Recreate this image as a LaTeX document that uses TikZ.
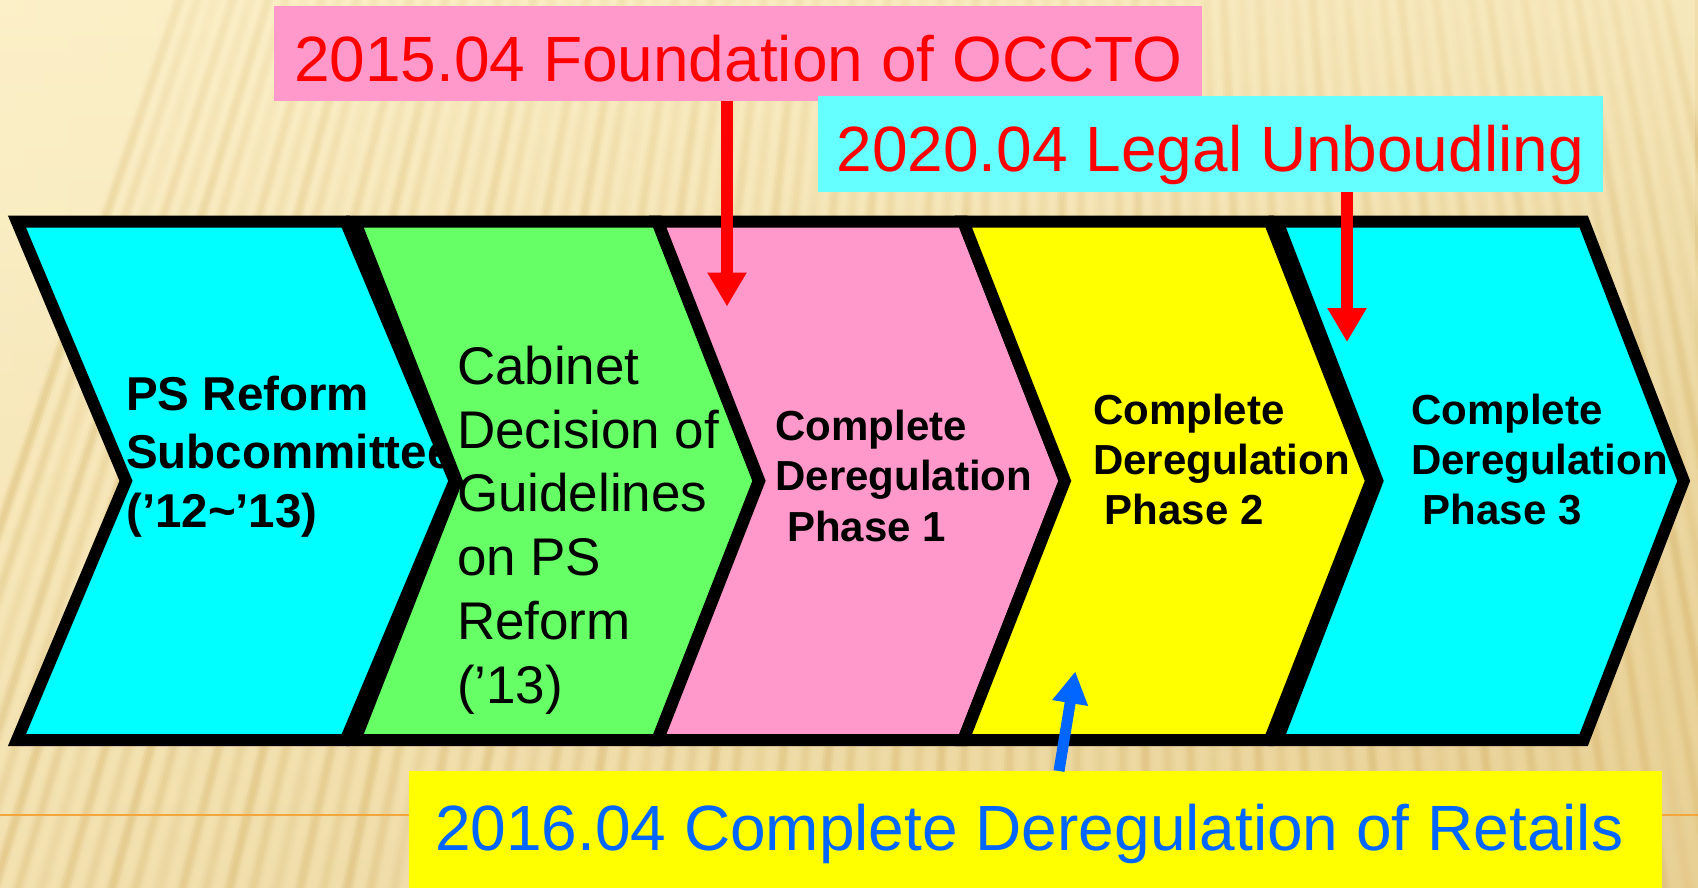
\documentclass[tikz,border=0pt]{standalone}
\usepackage{fontspec}
\setmainfont{Liberation Sans}
\usetikzlibrary{arrows.meta,fadings}

\definecolor{bgtop}{HTML}{FCF0C8}
\definecolor{bgbottom}{HTML}{ECD59C}
\definecolor{bgright}{HTML}{E4CA8C}
\definecolor{stripecol}{HTML}{D6B468}
\definecolor{slideline}{HTML}{F2A63C}
\definecolor{chcyan}{HTML}{00FFFF}
\definecolor{chgreen}{HTML}{66FF66}
\definecolor{chpink}{HTML}{FF99CC}
\definecolor{chyellow}{HTML}{FFFF00}
\definecolor{boxcyan}{HTML}{66FFFF}
\definecolor{labelred}{HTML}{FF0000}
\definecolor{labelblue}{HTML}{0066FF}

% one chevron: left x, right x, point offset, fill colour
\newcommand{\chevronpath}[4]{%
  \filldraw[chevline, fill=#4]
    (#1,221.7) -- (#2,221.7) -- (#2+#3,480.85) -- (#2,740)
    -- (#1,740) -- (#1+#3,480.85) -- cycle;}

\begin{document}
\begin{tikzpicture}[x=1pt,y=-1pt,
  chevline/.style={draw=black, line width=12pt, line join=miter, miter limit=20},
  ctext/.style={anchor=north west, inner sep=0pt, align=left, text=black},
  labelbox/.style={anchor=north west, inner xsep=0pt, inner ysep=0pt,
    minimum height=0pt, font=\fontsize{64}{76.8}\selectfont},
  redarrow/.style={draw=labelred, line width=12pt,
    -{Triangle[length=34pt,width=37pt]}},
  bluearrow/.style={draw=labelblue, line width=11pt,
    -{Triangle[length=32pt,width=34pt]}},
  stripe/.style={draw=stripecol}]

\useasboundingbox (0,0) rectangle (1698,887);

% ---- striped beige background (soft rays) ----
\begin{scope}
  \clip (0,0) rectangle (1698,887);
  \shade[top color=bgtop, bottom color=bgbottom] (0,0) rectangle (1698,887);
  \shade[left color=bgtop, right color=bgright, opacity=0.45] (0,0) rectangle (1698,887);
  \foreach \k in {-52,...,32}{
    \pgfmathsetmacro\op{0.06+0.04*mod(abs(\k*7),5)}
    \draw[stripe, line width=15pt, opacity=0.05] (1100,-2700) -- (1100+\k*23.6,900);
    \draw[stripe, line width=10pt, opacity=\op] (1100,-2700) -- (1100+\k*23.6,900);
    \draw[stripe, line width=5pt, opacity=\op] (1100,-2700) -- (1100+\k*23.6,900);
  }
  \fill[bgtop, path fading=south, opacity=0.55] (0,0) rectangle (1698,420);
  \draw[slideline, line width=2pt] (0,814.5) -- (1698,814.5);
\end{scope}

% ---- chevron band ----
\chevronpath{17}{345.7}{109}{chcyan}
\node[ctext, font=\bfseries\fontsize{47.5}{58.5}\selectfont] (c1) at (126,362.3)
  {\rule{0pt}{47.5pt}PS Reform\\Subcommittee\\(’12\textasciitilde’13)};

\chevronpath{355}{657.3}{101.5}{chgreen}
\node[ctext, font=\fontsize{53}{63.7}\selectfont] (c2) at (456.8,331.3)
  {\rule{0pt}{53pt}Cabinet\\Decision of\\Guidelines\\on PS\\Reform\\(’13)};

\chevronpath{657.7}{963.3}{101.5}{chpink}
\node[ctext, font=\bfseries\fontsize{42}{50.4}\selectfont] (c3) at (775.2,398.3)
  {\rule{0pt}{42pt}Complete\\Deregulation\\\hspace*{0.28em}Phase 1};

\chevronpath{963.3}{1269.7}{101.5}{chyellow}
\node[ctext, font=\bfseries\fontsize{42}{50.4}\selectfont] (c4) at (1092.9,381.9)
  {\rule{0pt}{42pt}Complete\\Deregulation\\\hspace*{0.28em}Phase 2};

\chevronpath{1277.3}{1583.7}{100}{chcyan}
\node[ctext, font=\bfseries\fontsize{42}{50.4}\selectfont] (c5) at (1410.9,381.9)
  {\rule{0pt}{42pt}Complete\\Deregulation\\\hspace*{0.28em}Phase 3};

% ---- event labels ----
\node[labelbox, fill=chpink, text=labelred, minimum width=928pt,
  text height=75.6pt, text depth=19.7pt] (occto) at (274,5.4)
  {2015.04 Foundation of OCCTO};
\node[labelbox, fill=boxcyan, text=labelred, minimum width=785pt,
  text height=75.7pt, text depth=20.7pt] (unbundling) at (817.6,95.3)
  {2020.04 Legal Unboudling};
\node[labelbox, fill=chyellow, text=labelblue, minimum width=1253pt,
  text height=79pt, text depth=40pt] (retail) at (409,771)
  {2016.04 Complete Deregulation of Retails\kern13pt};

% ---- pointers ----
\coordinate (t1) at (727,306.5);
\coordinate (t2) at (1347,342);
\coordinate (t3) at (1075.3,671.4);
\coordinate (b3) at (1059,0);
\draw[redarrow] (occto.south -| t1) -- (t1);
\draw[redarrow] (unbundling.south -| t2) -- (t2);
\draw[bluearrow] (retail.north -| b3) -- (t3);

\end{tikzpicture}
\end{document}
